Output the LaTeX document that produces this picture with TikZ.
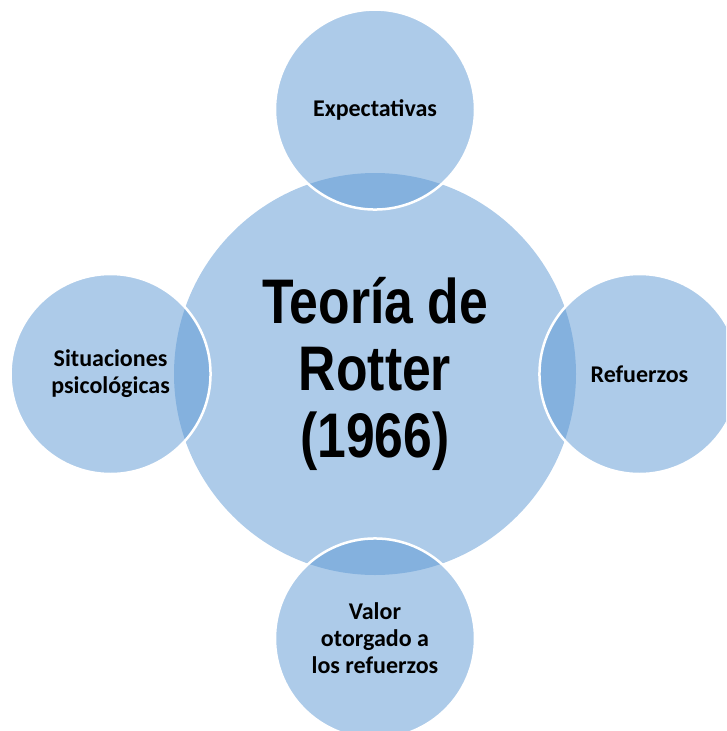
\documentclass[tikz,border=0pt]{standalone}
\usepackage{fontspec}
\setmainfont{Carlito}
\newfontfamily\hubfont[FakeStretch=0.82]{Liberation Sans}
\usepackage{xcolor}
\definecolor{ringBlue}{HTML}{5B97D3}
\usetikzlibrary{positioning}
\tikzset{%
  hubCircle/.style={%
    circle,
    fill=ringBlue,
    fill opacity=0.5,
    text opacity=1,
    minimum size=402pt,
    inner sep=0pt,
    align=center,
    font=\hubfont\bfseries\fontsize{63}{67}\selectfont
  },
  satCircle/.style={%
    circle,
    fill=ringBlue,
    fill opacity=0.5,
    text opacity=1,
    draw=white,
    draw opacity=1,
    line width=2.5pt,
    minimum size=200pt,
    inner sep=0pt,
    align=center,
    font=\bfseries\fontsize{24}{27}\selectfont
  }
}

\begin{document}
\begin{tikzpicture}[x=1pt, y=-1pt, node distance=-38pt]
    \useasboundingbox (0,0) rectangle (726,731);
    \clip (0,0) rectangle (726,731);

    % Central theory circle
    \node[hubCircle] (hub) at (375,374) {Teoría de\\Rotter\\(1966)};

    % Four surrounding circles
    \node[satCircle, above=of hub] (expect) {Expectativas};
    \node[satCircle, left=of hub] (situ) {Situaciones\\psicológicas};
    \node[satCircle, right=of hub] (refuer) {Refuerzos};
    \node[satCircle, below=of hub] (valor) {Valor\\otorgado a\\los refuerzos};
\end{tikzpicture}
\end{document}
